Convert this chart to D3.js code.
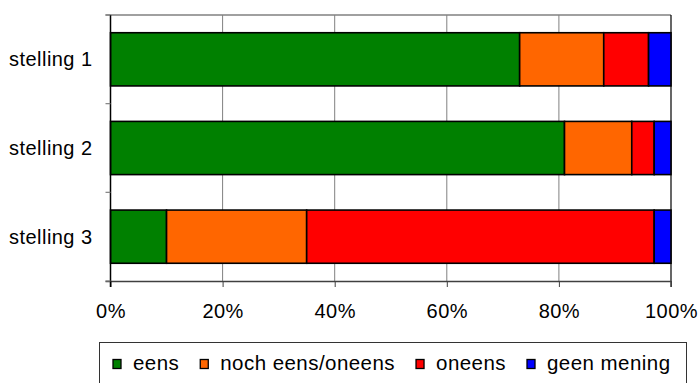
<!DOCTYPE html>
<html>
<head>
<meta charset="utf-8">
<script src="https://cdn.jsdelivr.net/npm/d3@7"></script>
<style>
  html, body { margin: 0; padding: 0; background: #fff; }
  svg { display: block; font-family: "Liberation Sans", Arial, sans-serif; letter-spacing: 0.45px; }
</style>
</head>
<body>
<svg id="chart" width="700" height="383"></svg>
<script>
// Statements and the share of answers per category (percent)
const categories = ["stelling 1", "stelling 2", "stelling 3"];
const seriesNames = ["eens", "noch eens/oneens", "oneens", "geen mening"];
const eens = [73, 81, 10];
const nochEensOneens = [15, 12, 25];
const oneens = [8, 4, 62];
const geenMening = [4, 3, 3];
const seriesColors = ["#008000", "#FF6600", "#FF0000", "#0000FF"];
const xTicks = [0, 20, 40, 60, 80, 100];

const seriesValues = [eens, nochEensOneens, oneens, geenMening];
const rows = categories.map((c, i) => {
  const r = { category: c };
  seriesNames.forEach((s, k) => { r[s] = seriesValues[k][i]; });
  return r;
});

const svg = d3.select("#chart");
const plot = { left: 110.5, right: 671, top: 15, bottom: 281 };

const x = d3.scaleLinear().domain([0, 100]).range([plot.left, plot.right]);
const y = d3.scaleBand().domain(categories).range([plot.top, plot.bottom])
  .paddingInner(0.4).paddingOuter(0.2);

// Vertical gridlines
svg.append("g")
  .selectAll("line")
  .data(xTicks.filter(t => t > 0 && t < 100))
  .join("line")
  .attr("x1", d => x(d)).attr("x2", d => x(d))
  .attr("y1", plot.top).attr("y2", plot.bottom)
  .attr("stroke", "#808080").attr("stroke-width", 1);

// Top border of the plot area
svg.append("line")
  .attr("x1", plot.left - 5).attr("x2", plot.right)
  .attr("y1", plot.top).attr("y2", plot.top)
  .attr("stroke", "#808080").attr("stroke-width", 1.5);

// Right border
svg.append("line")
  .attr("x1", plot.right).attr("x2", plot.right)
  .attr("y1", plot.top).attr("y2", plot.bottom + 6)
  .attr("stroke", "#000").attr("stroke-width", 1.2);

// Stacked bars
const stack = d3.stack().keys(seriesNames);
const layers = stack(rows);
svg.append("g")
  .selectAll("g")
  .data(layers)
  .join("g")
  .attr("fill", (d, i) => seriesColors[i])
  .selectAll("rect")
  .data(d => d)
  .join("rect")
  .attr("x", d => x(d[0]))
  .attr("width", d => x(d[1]) - x(d[0]))
  .attr("y", d => y(d.data.category))
  .attr("height", y.bandwidth())
  .attr("stroke", "#000")
  .attr("stroke-width", 1.6);

// Bottom axis
const xAxis = d3.axisBottom(x).tickValues(xTicks).tickFormat(d => d + "%")
  .tickSizeInner(6).tickSizeOuter(0).tickPadding(17);
const gx = svg.append("g").attr("transform", `translate(0,${plot.bottom})`).call(xAxis);
gx.select(".domain").attr("stroke", "#404040").attr("stroke-width", 1.5)
  .attr("d", `M${plot.left - 5},0.5H${plot.right}`);
gx.selectAll(".tick line").attr("stroke", "#404040");
gx.selectAll(".tick text").attr("font-size", 20).attr("fill", "#000")
  .attr("font-family", "Liberation Sans, Arial, sans-serif");

// Left axis: category labels, ticks between bands
svg.append("line")
  .attr("x1", plot.left).attr("x2", plot.left)
  .attr("y1", plot.top).attr("y2", plot.bottom + 6)
  .attr("stroke", "#000").attr("stroke-width", 1.5);
const boundaries = categories.map(c => y(c) - y.step() * y.paddingInner() / 2)
  .concat([plot.bottom]);
svg.append("g").selectAll("line")
  .data(boundaries)
  .join("line")
  .attr("x1", plot.left - 5).attr("x2", plot.left)
  .attr("y1", d => d).attr("y2", d => d)
  .attr("stroke", "#808080").attr("stroke-width", 1.2);
svg.append("g").selectAll("text")
  .data(categories)
  .join("text")
  .attr("x", plot.left - 18)
  .attr("y", d => y(d) + y.bandwidth() / 2)
  .attr("dy", "0.35em")
  .attr("text-anchor", "end")
  .attr("font-size", 20)
  .text(d => d);

// Legend
const legend = svg.append("g");
legend.append("rect")
  .attr("x", 99.5).attr("y", 342.5)
  .attr("width", 587).attr("height", 60)
  .attr("fill", "none").attr("stroke", "#333").attr("stroke-width", 1);
let lx = 113;
seriesNames.forEach((name, i) => {
  legend.append("rect")
    .attr("x", lx).attr("y", 359.5)
    .attr("width", 8).attr("height", 9)
    .attr("fill", seriesColors[i]).attr("stroke", "#000").attr("stroke-width", 1.3);
  const t = legend.append("text")
    .attr("x", lx + 20).attr("y", 370)
    .attr("font-size", 20.5)
    .text(name);
  lx = lx + 20 + t.node().getComputedTextLength() + 21;
});
</script>
</body>
</html>
